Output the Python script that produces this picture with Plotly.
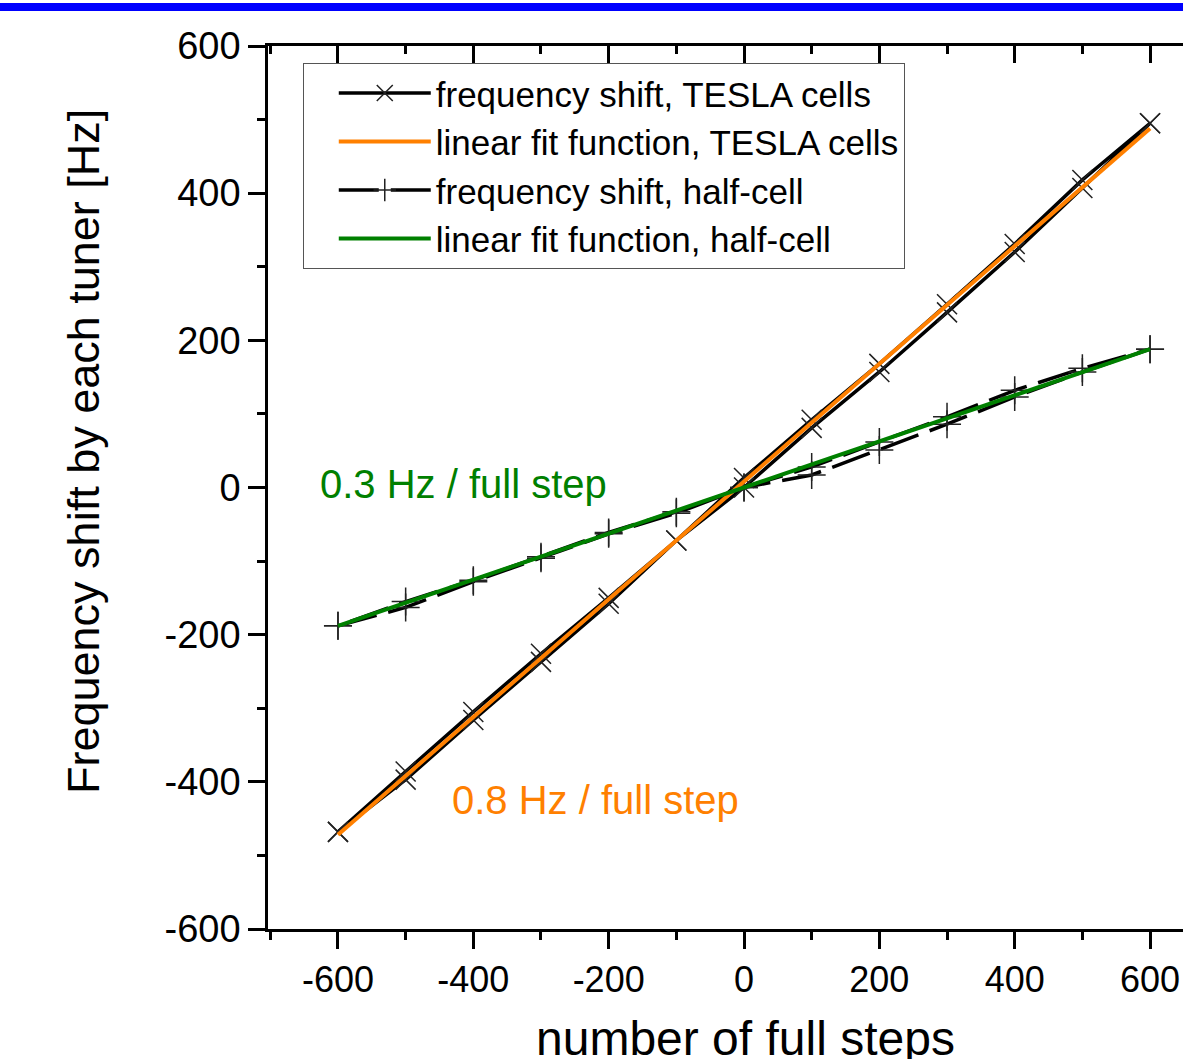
import plotly.graph_objects as go

# ---- data ----
steps_up = [-600, -500, -400, -300, -200, -100, 0, 100, 200, 300, 400, 500, 600]
steps_down = [600, 500, 400, 300, 200, 100, 0, -100, -200, -300, -400, -500, -600]

tesla_up = [-468, -397, -316, -237, -158, -72, 0, 81, 157, 238, 320, 407, 495]
tesla_down = [495, 418, 331, 249, 168, 92, 13, -72, -150, -226, -305, -386, -468]

half_up = [-188, -163, -128, -96, -63, -35, 0, 17, 51, 86, 123, 157, 188]
half_down = [188, 162, 132, 96, 62, 28, 0, -33, -61, -94, -126, -155, -188]

fit_x = [-600, 600]
tesla_fit = [-472, 488]
half_fit = [-188, 188]

labels = ["frequency shift, TESLA cells", "linear fit function, TESLA cells",
          "frequency shift, half-cell", "linear fit function, half-cell"]
ann_half = "0.3 Hz / full step"
ann_tesla = "0.8 Hz / full step"
x_title = "number of full steps"
y_title = "Frequency shift by each tuner [Hz]"

tick_vals = [-600, -400, -200, 0, 200, 400, 600]
tick_text = ["-600", "-400", "-200", "0", "200", "400", "600"]
minor_vals = [-700, -500, -300, -100, 100, 300, 500, 700]

ORANGE = "#FF8000"
GREEN = "#008000"
FONT = "Liberation Sans, Arial, sans-serif"

fig = go.Figure()
fig.add_trace(go.Scatter(
    x=steps_up + steps_down, y=tesla_up + tesla_down, mode="lines+markers",
    name=labels[0], legendrank=1,
    line=dict(color="black", width=3.5),
    marker=dict(symbol="x-thin", size=20, line=dict(color="#222", width=1.5), color="#222")))
fig.add_trace(go.Scatter(
    x=steps_up + steps_down, y=half_up + half_down, mode="lines+markers",
    name=labels[2], legendrank=3,
    line=dict(color="black", width=3.5, dash="40px,12px"),
    marker=dict(symbol="cross-thin", size=20, line=dict(color="#222", width=1.5), color="#222")))
fig.add_trace(go.Scatter(
    x=fit_x, y=tesla_fit, mode="lines", name=labels[1], legendrank=2,
    line=dict(color=ORANGE, width=4)))
fig.add_trace(go.Scatter(
    x=fit_x, y=half_fit, mode="lines", name=labels[3], legendrank=4,
    line=dict(color=GREEN, width=4)))
# empty helper trace so that the top (mirror) axis is drawn with its ticks
fig.add_trace(go.Scatter(x=[], y=[], xaxis="x2", yaxis="y", showlegend=False, hoverinfo="skip"))

xr = [-703.4, 648.7]
common = dict(showline=True, linecolor="black", linewidth=2.5, showgrid=False,
              zeroline=False, tickcolor="black", tickwidth=2.5, ticklen=17,
              tickmode="array", tickvals=tick_vals, ticktext=tick_text)

fig.update_layout(
    width=1183, height=1059,
    margin=dict(l=268, r=0, t=46, b=130),
    paper_bgcolor="white", plot_bgcolor="white",
    font=dict(family=FONT, color="black"),
    xaxis=dict(range=xr, ticks="outside",
               tickfont=dict(family=FONT, size=36, color="black"),
               minor=dict(tickmode="array", tickvals=minor_vals, ticks="outside",
                          ticklen=8, tickwidth=2.5, tickcolor="black"),
               **common),
    xaxis2=dict(range=xr, overlaying="x", side="top", anchor="y", ticks="inside",
                showticklabels=False,
                minor=dict(tickmode="array", tickvals=minor_vals, ticks="inside",
                           ticklen=8, tickwidth=2.5, tickcolor="black"),
                **common),
    yaxis=dict(range=[-600, 600], ticks="outside",
               tickfont=dict(family=FONT, size=38, color="black"),
               minor=dict(tickmode="array", tickvals=minor_vals, ticks="outside",
                          ticklen=8, tickwidth=2.5, tickcolor="black"),
               **common),
    legend=dict(x=0.038, y=0.981, xanchor="left", yanchor="top",
                bordercolor="#555", borderwidth=1, bgcolor="white",
                font=dict(family=FONT, size=35, color="black"),
                itemwidth=92, indentation=30, tracegroupgap=0),
    showlegend=True,
)

fig.add_annotation(x=-629.5, y=5, xref="x", yref="y", text=ann_half, showarrow=False,
                   xanchor="left", yanchor="middle", font=dict(family=FONT, size=40, color=GREEN))
fig.add_annotation(x=-434.5, y=-425, xref="x", yref="y", text=ann_tesla, showarrow=False,
                   xanchor="left", yanchor="middle", font=dict(family=FONT, size=40, color=ORANGE))

# axis titles
fig.add_annotation(x=(745 - 268) / 915, y=1 - (1038 - 46) / 883, xref="paper", yref="paper",
                   text=x_title, showarrow=False, xanchor="center", yanchor="middle",
                   font=dict(family=FONT, size=48, color="black"))
fig.add_annotation(x=(83 - 268) / 915, y=1 - (452 - 46) / 883, xref="paper", yref="paper",
                   text=y_title, showarrow=False, textangle=-90, xanchor="center", yanchor="middle",
                   font=dict(family=FONT, size=45, color="black"))

# blue band along the top of the page
fig.add_shape(type="rect", xref="paper", yref="paper", x0=-0.3, x1=1.01,
              y0=1 + (46 - 11) / 883, y1=1 + (46 - 3) / 883,
              fillcolor="#0000FF", line=dict(width=0), layer="above")

fig.write_html("out.html")
